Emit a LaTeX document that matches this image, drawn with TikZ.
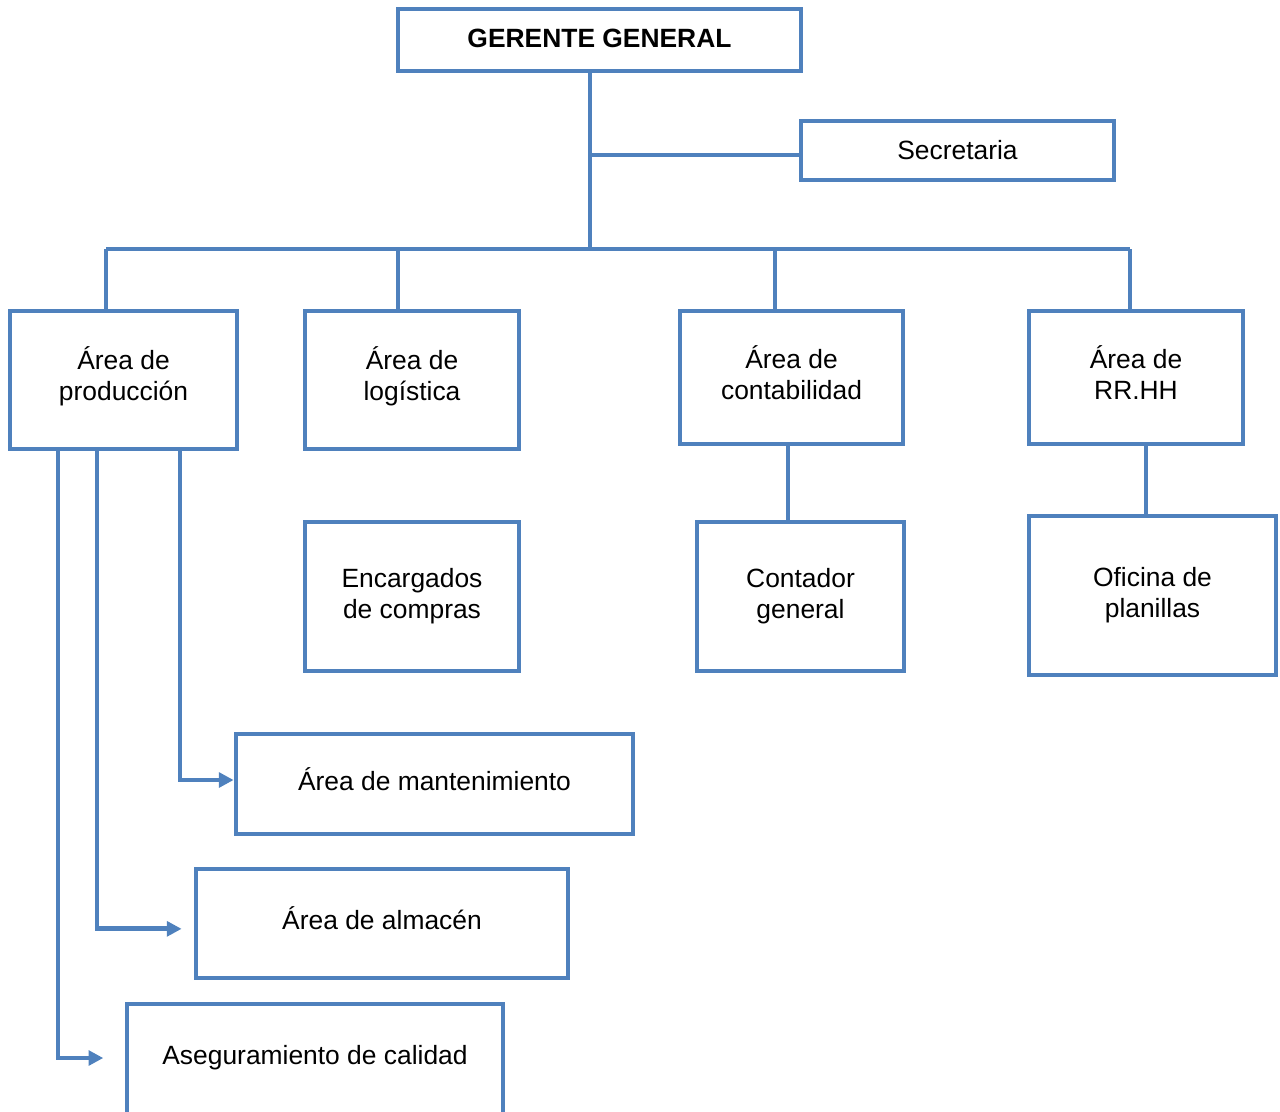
\documentclass[tikz,border=0pt]{standalone}
\usepackage{fontspec}
\setmainfont{Liberation Sans}
\usetikzlibrary{arrows.meta}
\definecolor{lineblue}{HTML}{4F81BD}
\begin{document}
\begin{tikzpicture}[x=0.75pt,y=-0.75pt,
  box/.style={draw=lineblue,line width=3.6pt,rectangle,align=center,inner sep=0pt,
    font=\fontsize{19.8pt}{23.3pt}\selectfont,text=black},
  conn/.style={draw=lineblue,line width=3.6pt},
  arr/.style={conn,-{Triangle[length=11pt,width=11pt]}}]
\useasboundingbox (0,0) rectangle (1280,1111);
\node[box,minimum width=403*0.75pt,minimum height=62*0.75pt,text depth=3pt,font=\fontsize{19.8pt}{23.3pt}\selectfont\bfseries] (gg) at (599.5,40) {GERENTE GENERAL};
\node[box,minimum width=313*0.75pt,minimum height=59*0.75pt] (sec) at (957.5,150.5) {Secretaria};
\node[box,minimum width=227*0.75pt,minimum height=138*0.75pt,text depth=10.2pt] (prod) at (123.5,380) {Área de\\producción};
\node[box,minimum width=214*0.75pt,minimum height=138*0.75pt,text depth=10.2pt] (log) at (412,380) {Área de\\logística};
\node[box,minimum width=223*0.75pt,minimum height=133*0.75pt,text depth=7.5pt] (cont) at (791.5,377.5) {Área de\\contabilidad};
\node[box,minimum width=214*0.75pt,minimum height=133*0.75pt,text depth=7.5pt] (rrhh) at (1136,377.5) {Área de\\RR.HH};
\node[box,minimum width=214*0.75pt,minimum height=149*0.75pt] (enc) at (412,596.5) {Encargados\\de compras};
\node[box,minimum width=207*0.75pt,minimum height=149*0.75pt] (contg) at (800.5,596.5) {Contador\\general};
\node[box,minimum width=247*0.75pt,minimum height=159*0.75pt] (ofi) at (1152.5,595.5) {Oficina de\\planillas};
\node[box,minimum width=397*0.75pt,minimum height=100*0.75pt,text depth=7.5pt] (mant) at (434.5,784) {Área de mantenimiento};
\node[box,minimum width=372*0.75pt,minimum height=109*0.75pt,text depth=7.5pt] (alm) at (382,923.5) {Área de almacén};
\node[box,minimum width=376*0.75pt,minimum height=116*0.75pt] (cal) at (315,1062) {};
\node[font=\fontsize{19.8pt}{23.3pt}\selectfont] (caltxt) at (315,1058) {Aseguramiento de calidad};
% connectors
\coordinate (bus) at (590,249);
\coordinate (secj) at (590,155);
\coordinate (busL) at (106,249);
\coordinate (busR) at (1130,249);
\coordinate (dl) at (398,249);
\coordinate (dc) at (775,249);
\coordinate (cc) at (788,0);
\coordinate (rc) at (1146,0);
\coordinate (a1) at (180,0);
\coordinate (a2) at (97,0);
\coordinate (a3) at (58,0);
\draw[conn] (gg.south -| bus) -- (bus);
\draw[conn] (secj) -- (secj -| sec.west);
\draw[conn] (busL) -- (busR);
\draw[conn] (busL) -- (busL |- prod.north);
\draw[conn] (dl) -- (dl |- log.north);
\draw[conn] (dc) -- (dc |- cont.north);
\draw[conn] (busR) -- (busR |- rrhh.north);
\draw[conn] (cc |- cont.south) -- (cc |- contg.north);
\draw[conn] (rc |- rrhh.south) -- (rc |- ofi.north);
\draw[arr] (a1 |- prod.south) |- ([yshift=3pt]mant.west);
\draw[arr,shorten >=9pt] (a2 |- prod.south) |- ([yshift=-4pt]alm.west);
\draw[arr,shorten >=16pt] (a3 |- prod.south) |- ([yshift=3pt]cal.west);
\end{tikzpicture}
\end{document}
